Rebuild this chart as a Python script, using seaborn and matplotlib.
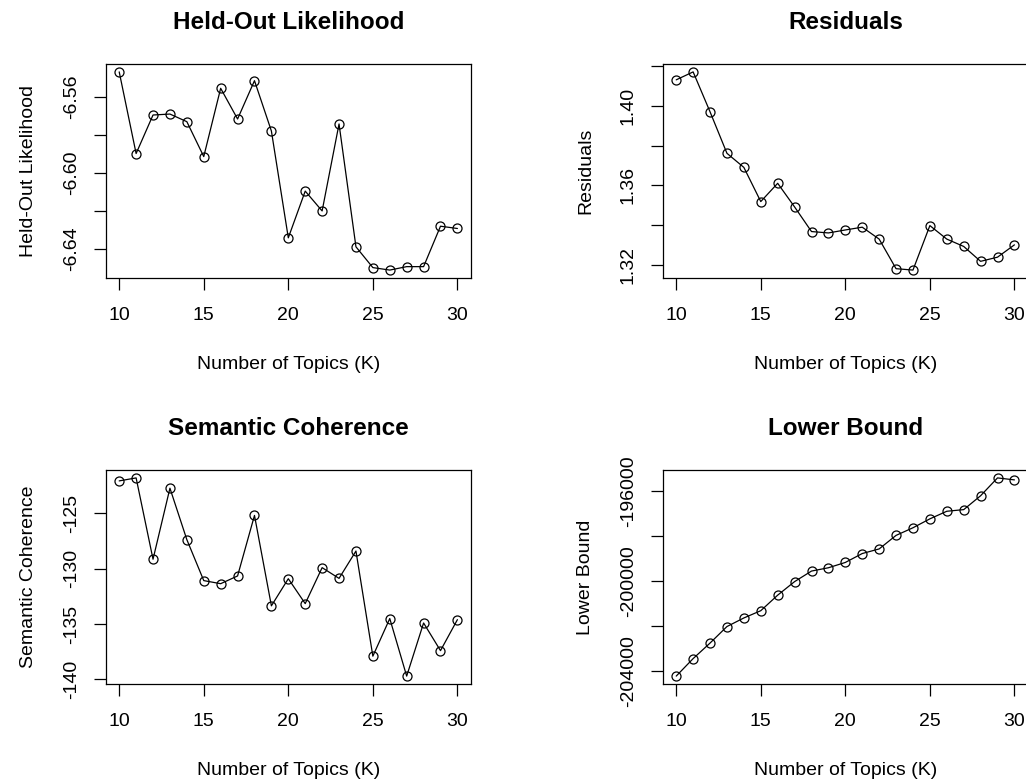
import numpy as np
import pandas as pd
import matplotlib
matplotlib.use("Agg")
import matplotlib.pyplot as plt
import seaborn as sns
from matplotlib.ticker import FixedLocator, FixedFormatter

# number of topics K
topics = list(range(10, 31))

heldout = [-6.5471, -6.5899, -6.5697, -6.5692, -6.5732, -6.5915, -6.5557,
           -6.5718, -6.5517, -6.5781, -6.6341, -6.6096, -6.6200, -6.5744,
           -6.6388, -6.6497, -6.6510, -6.6492, -6.6492, -6.6280, -6.6292]
residuals = [1.4131, 1.4171, 1.3970, 1.3761, 1.3690, 1.3518, 1.3610, 1.3491,
             1.3367, 1.3360, 1.3375, 1.3389, 1.3329, 1.3180, 1.3173, 1.3397,
             1.3329, 1.3292, 1.3217, 1.3238, 1.3300]
semcoh = [-122.06, -121.79, -129.14, -122.72, -127.37, -131.07, -131.35,
          -130.65, -125.18, -133.35, -130.90, -133.15, -129.90, -130.87,
          -128.40, -137.90, -134.50, -139.70, -134.90, -137.40, -134.60]
lbound = [-204235, -203456, -202765, -202029, -201647, -201324, -200632,
          -200029, -199559, -199412, -199176, -198779, -198574, -197971,
          -197632, -197235, -196897, -196824, -196206, -195412, -195500]

x_ticks = [10, 15, 20, 25, 30]
heldout_ticks = [-6.64, -6.62, -6.60, -6.58, -6.56]
heldout_labels = ["-6.64", "", "-6.60", "", "-6.56"]
resid_ticks = [1.32, 1.34, 1.36, 1.38, 1.40, 1.42]
resid_labels = ["1.32", "", "1.36", "", "1.40", ""]
semcoh_ticks = [-140, -135, -130, -125]
semcoh_labels = ["-140", "-135", "-130", "-125"]
lbound_ticks = [-204000, -202000, -200000, -198000, -196000]
lbound_labels = ["-204000", "", "-200000", "", "-196000"]

df = pd.DataFrame({"K": topics, "heldout": heldout, "residuals": residuals,
                   "semcoh": semcoh, "lbound": lbound})

sns.set_style("white")
plt.rcParams['font.family'] = ['Liberation Sans', 'DejaVu Sans']
plt.rcParams.update({"text.color": "black", "axes.labelcolor": "black",
                     "xtick.color": "black", "ytick.color": "black"})

fig = plt.figure(figsize=(10.26, 7.82), dpi=100)

w, h = 0.356, 0.2737
panels = [
    ([0.103, 0.6445, w, h], "heldout", "Held-Out Likelihood", heldout_ticks, heldout_labels),
    ([0.6459, 0.6445, w, h], "residuals", "Residuals", resid_ticks, resid_labels),
    ([0.103, 0.1253, w, h], "semcoh", "Semantic Coherence", semcoh_ticks, semcoh_labels),
    ([0.6459, 0.1253, w, h], "lbound", "Lower Bound", lbound_ticks, lbound_labels),
]

for rect, col, title, yt, yl in panels:
    ax = fig.add_axes(rect)
    sns.lineplot(data=df, x="K", y=col, ax=ax, color="black", linewidth=0.9,
                 marker="o", markersize=6.5, markerfacecolor="none",
                 markeredgecolor="black", markeredgewidth=0.9)
    ax.margins(x=0.04, y=0.04)
    ax.set_title(title, fontsize=17.5, fontweight="bold", pad=25.5, color="black")
    ax.set_xlabel("Number of Topics (K)", fontsize=14, labelpad=23)
    ax.set_ylabel(title, fontsize=14, labelpad=18.5)
    ax.xaxis.set_major_locator(FixedLocator(x_ticks))
    ax.yaxis.set_major_locator(FixedLocator(yt))
    ax.yaxis.set_major_formatter(FixedFormatter(yl))
    ax.tick_params(axis="x", direction="out", length=8.6, width=0.9,
                   labelsize=14, pad=12, bottom=True)
    ax.tick_params(axis="y", direction="out", length=8.6, width=0.9,
                   labelsize=14, pad=10, left=True)
    for lab in ax.get_yticklabels():
        lab.set_rotation(90)
        lab.set_va("center")
    for s in ax.spines.values():
        s.set_color("black")
        s.set_linewidth(0.9)

fig.savefig("out.png", dpi=100)
